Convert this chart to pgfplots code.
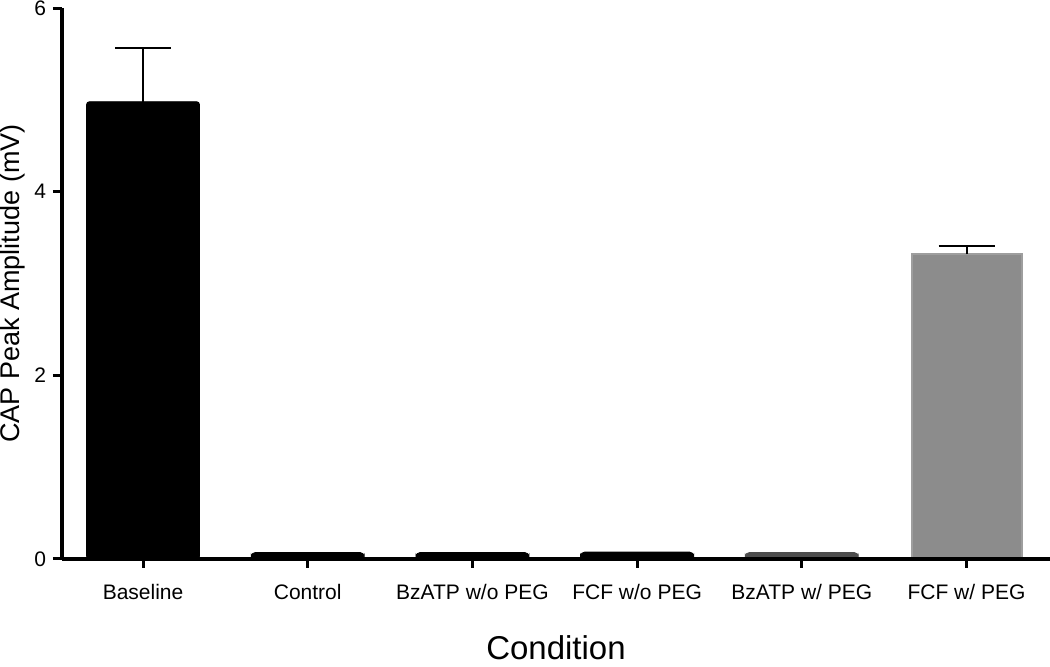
\documentclass[border=0pt]{standalone}
\usepackage{fontspec}
\setmainfont{Liberation Sans}
\usepackage{pgfplots}
\pgfplotsset{compat=1.18}
\definecolor{darkbar}{HTML}{4D4D4D}
\definecolor{graybar}{HTML}{8C8C8C}
\definecolor{grayedge}{HTML}{9E9E9E}

\begin{document}
\begin{tikzpicture}
\begin{axis}[
  scale only axis, width=494pt, height=275.5pt,
  xmin=-0.492, xmax=5.507, ymin=0, ymax=6,
  axis x line*=bottom, axis y line*=left,
  axis line style={line width=1.6pt, black},
  axis on top,
  ytick={0,2,4,6},
  xtick={0,1,2,3,4,5},
  xticklabels={Baseline, Control, BzATP w/o PEG, FCF w/o PEG, BzATP w/ PEG, FCF w/ PEG},
  tick align=outside, major tick length=4.5pt,
  tick style={line width=1.5pt, black},
  /pgf/number format/assume math mode=true,
  tick label style={font=\fontsize{10.5}{12}\selectfont},
  xticklabel style={anchor=base, yshift=-16pt},
  yticklabel style={anchor=east},
  xlabel={Condition},
  ylabel={CAP Peak Amplitude (mV)},
  every axis x label/.style={at={(axis description cs:0.5,0)}, yshift=-44.5pt, anchor=center, font=\fontsize{16.5}{18}\selectfont},
  every axis y label/.style={at={(axis description cs:0,0.5)}, xshift=-24.5pt, rotate=90, anchor=center, font=\fontsize{13.5}{15}\selectfont},
  error bars/error bar style={line width=1pt, black, sharp corners},
  error bars/error mark options={rotate=90, mark size=14pt, line width=1pt, black},
]
\addplot[ybar, bar width=56.5pt, bar shift=0pt, fill=black, draw=black, rounded corners=1.5pt,
  error bars/.cd, y dir=plus, y explicit]
  coordinates {(0,4.98) +- (0,0.58)};
\addplot[ybar, bar width=56.5pt, bar shift=0pt, fill=black, draw=black, rounded corners=2pt]
  coordinates {(1,0.07) (2,0.07) (3,0.075)};
\addplot[ybar, bar width=56.5pt, bar shift=0pt, fill=darkbar, draw=darkbar, rounded corners=2pt]
  coordinates {(4,0.07)};
\addplot[ybar, bar width=55pt, bar shift=0pt, fill=graybar, draw=grayedge, line width=1pt,
  error bars/.cd, y dir=plus, y explicit]
  coordinates {(5,3.32) +- (0,0.09)};
\end{axis}
\pgfresetboundingbox
\useasboundingbox ([xshift=-31pt,yshift=-54pt]current axis.south west) rectangle ([yshift=4pt]current axis.north east);
\end{tikzpicture}
\end{document}
